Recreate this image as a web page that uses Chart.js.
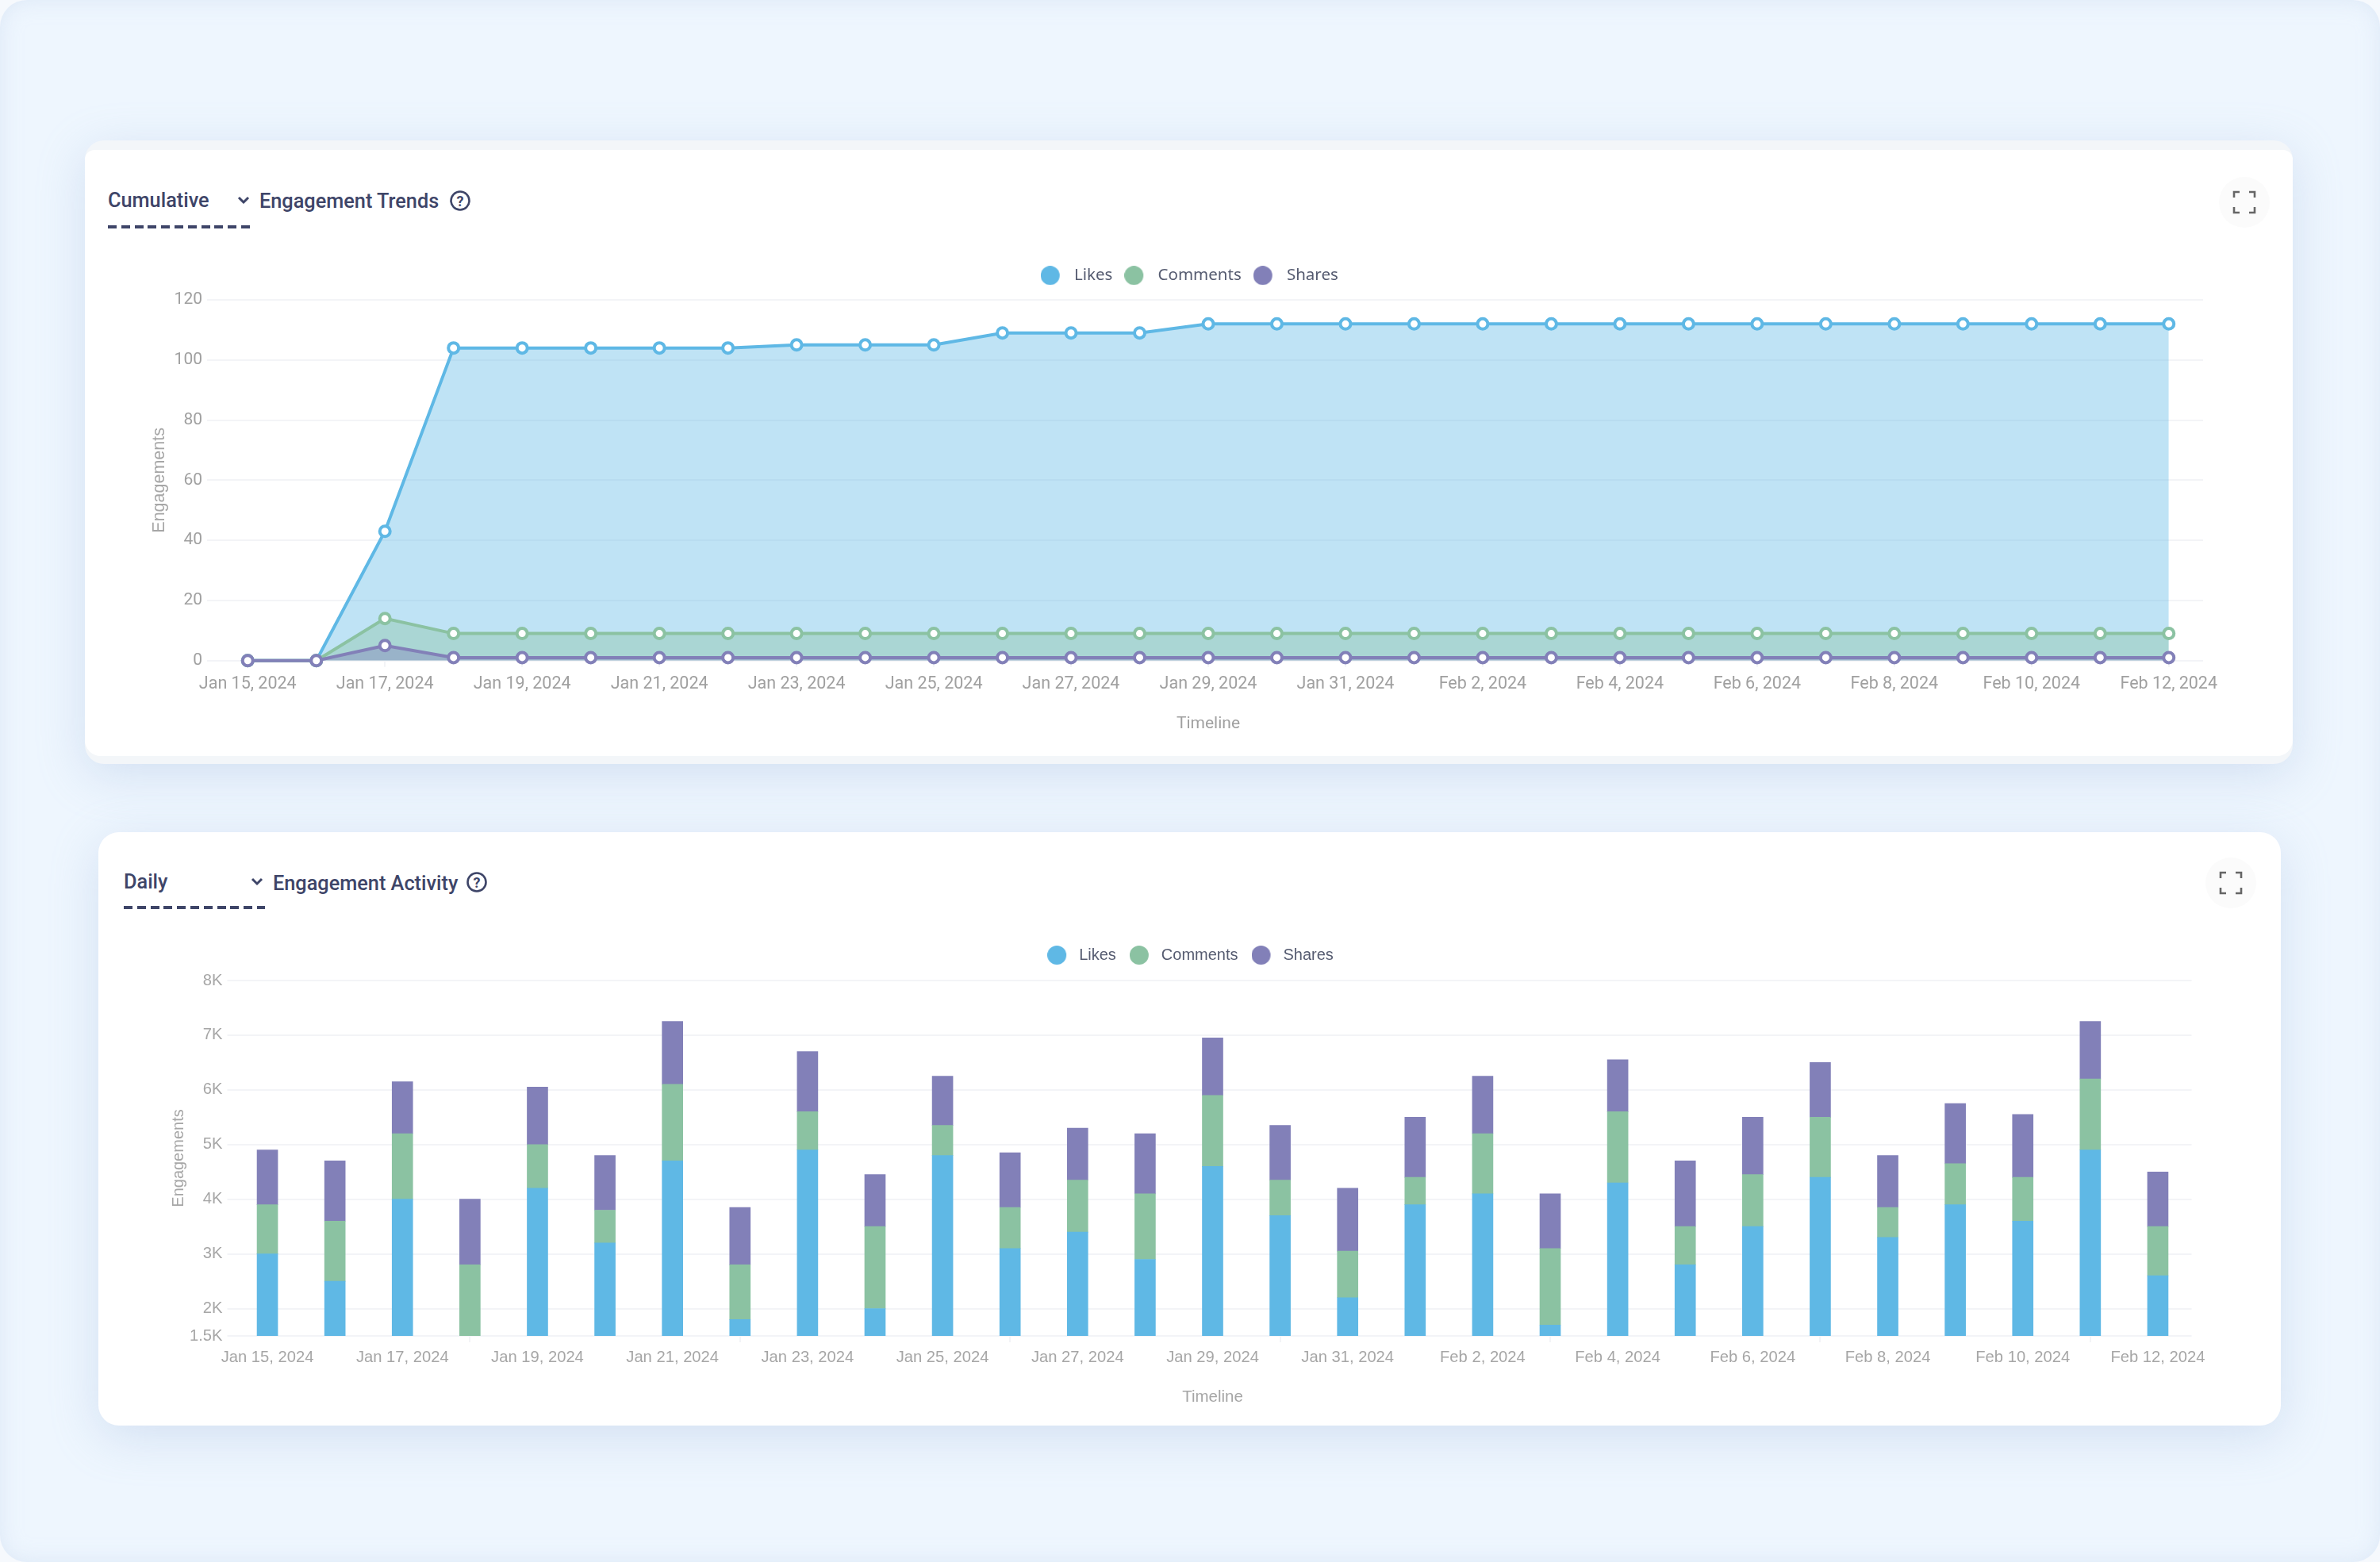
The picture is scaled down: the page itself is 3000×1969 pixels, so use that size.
<!DOCTYPE html>
<html>
<head>
<meta charset="utf-8">
<title>Engagement</title>
<script src="https://cdn.jsdelivr.net/npm/chart.js@4"></script>
<style>
  html, body { margin: 0; padding: 0; width: 3000px; height: 1969px; overflow: hidden; background: #f6f9fd; }
  .page { position: absolute; inset: 0; background: #eef6fe; border-radius: 34px; box-shadow: inset 0 0 26px rgba(205,220,240,.55); overflow: hidden; }
  .card { position: absolute; box-shadow: 0 14px 60px rgba(150,175,215,.30); }
  #card1 { left: 107px; top: 177px; width: 2783px; height: 786px; background: #f3f6f9; border-radius: 24px; }
  #card1 .inner { position: absolute; left: 0; right: 0; top: 12px; bottom: 10px; background: #fff; border-radius: 12px 12px 20px 20px; }
  #card2 { left: 124px; top: 1049px; width: 2751px; height: 748px; background: #fff; border-radius: 26px; }
  .hd { position: absolute; font: 500 25.3px Roboto, sans-serif; color: #3e4568; white-space: nowrap; line-height: 30px; }
  .dash { position: absolute; width: 179px; height: 4px; background: repeating-linear-gradient(90deg, #3e4568 0 11px, transparent 11px 16.8px); }
  svg.ic { position: absolute; overflow: visible; }
  .box { position: absolute; }
  .box canvas { display: block; }
</style>
</head>
<body>
<div class="page">
  <div class="card" id="card1"><div class="inner"></div></div>
  <div class="card" id="card2"></div>

  <div class="hd" style="left:136px;top:238px">Cumulative</div>
  <svg class="ic" style="left:299px;top:247px" width="16" height="10" viewBox="0 0 16 10"><path d="M2 2 L8 8 L14 2" fill="none" stroke="#3e4568" stroke-width="3"/></svg>
  <div class="hd" style="left:327px;top:239px">Engagement Trends</div>
  <svg class="ic" style="left:567px;top:240px" width="26" height="26" viewBox="0 0 26 26"><circle cx="13" cy="13" r="11.5" fill="none" stroke="#3e4568" stroke-width="2.6"/><text x="13" y="19.5" text-anchor="middle" font-family="Roboto" font-weight="700" font-size="18" fill="#3e4568">?</text></svg>
  <div class="dash" style="left:136px;top:284px"></div>
  <svg class="ic" style="left:2797px;top:223px" width="64" height="64" viewBox="0 0 64 64"><circle cx="32" cy="32" r="32" fill="#fbfbfb"/><path d="M19 26 V19 H26 M38 19 H45 V26 M45 38 V45 H38 M26 45 H19 V38" fill="none" stroke="#666" stroke-width="2.6"/></svg>

  <div class="hd" style="left:156px;top:1097px">Daily</div>
  <svg class="ic" style="left:316px;top:1106px" width="16" height="10" viewBox="0 0 16 10"><path d="M2 2 L8 8 L14 2" fill="none" stroke="#3e4568" stroke-width="3"/></svg>
  <div class="hd" style="left:344px;top:1099px">Engagement Activity</div>
  <svg class="ic" style="left:588px;top:1099px" width="26" height="26" viewBox="0 0 26 26"><circle cx="13" cy="13" r="11.5" fill="none" stroke="#3e4568" stroke-width="2.6"/><text x="13" y="19.5" text-anchor="middle" font-family="Roboto" font-weight="700" font-size="18" fill="#3e4568">?</text></svg>
  <div class="dash" style="left:156px;top:1142px;width:178px"></div>
  <svg class="ic" style="left:2780px;top:1081px" width="64" height="64" viewBox="0 0 64 64"><circle cx="32" cy="32" r="32" fill="#fbfbfb"/><path d="M19 26 V19 H26 M38 19 H45 V26 M45 38 V45 H38 M26 45 H19 V38" fill="none" stroke="#666" stroke-width="2.6"/></svg>

  <div class="box" style="left:130px;top:322px;width:2680px;height:603px"><canvas id="trendChart"></canvas></div>
  <div class="box" style="left:140px;top:1177px;width:2648px;height:597px"><canvas id="activityChart"></canvas></div>
</div>

<script>
// ====== Data ======
const DATES = ["Jan 15, 2024","Jan 16, 2024","Jan 17, 2024","Jan 18, 2024","Jan 19, 2024","Jan 20, 2024","Jan 21, 2024","Jan 22, 2024","Jan 23, 2024","Jan 24, 2024","Jan 25, 2024","Jan 26, 2024","Jan 27, 2024","Jan 28, 2024","Jan 29, 2024","Jan 30, 2024","Jan 31, 2024","Feb 1, 2024","Feb 2, 2024","Feb 3, 2024","Feb 4, 2024","Feb 5, 2024","Feb 6, 2024","Feb 7, 2024","Feb 8, 2024","Feb 9, 2024","Feb 10, 2024","Feb 11, 2024","Feb 12, 2024"];

const cumLikes    = [0,0,43,104,104,104,104,104,105,105,105,109,109,109,112,112,112,112,112,112,112,112,112,112,112,112,112,112,112];
const cumComments = [0,0,14,9,9,9,9,9,9,9,9,9,9,9,9,9,9,9,9,9,9,9,9,9,9,9,9,9,9];
const cumShares   = [0,0,5,1,1,1,1,1,1,1,1,1,1,1,1,1,1,1,1,1,1,1,1,1,1,1,1,1,1];

const dayLikes    = [3000,2500,4000,1400,4200,3200,4700,1800,4900,2000,4800,3100,3400,2900,4600,3700,2200,3900,4100,1700,4300,2800,3500,4400,3300,3900,3600,4900,2600];
const dayComments = [900,1100,1200,1400,800,600,1400,1000,700,1500,550,750,950,1200,1300,650,850,500,1100,1400,1300,700,950,1100,550,750,800,1300,900];
const dayShares   = [1000,1100,950,1200,1050,1000,1150,1050,1100,950,900,1000,950,1100,1050,1000,1150,1100,1050,1000,950,1200,1050,1000,950,1100,1150,1050,1000];

const dayTicks = [1500,2000,3000,4000,5000,6000,7000,8000];

const BLUE = "#5fb8e5", GREEN = "#8bc2a2", PURPLE = "#8280b8";
const GRID = "#f3f4f7";

// ====== Legend helpers ======
// circle at the left of a wider image, gives the gap before the text
function legendDot(color, width) {
  const c = document.createElement("canvas");
  c.width = width; c.height = 24;
  const x = c.getContext("2d");
  x.fillStyle = color;
  x.beginPath(); x.arc(12, 12, 12, 0, Math.PI * 2); x.fill();
  return c;
}

function legendOptions(font, color, gap, dotWidth) {
  return {
    position: "top",
    labels: {
      font: font, color: color, padding: gap,
      usePointStyle: true, pointStyleWidth: dotWidth,
      generateLabels(chart) {
        return chart.data.datasets.map((ds, i) => ({
          text: ds.label, pointStyle: legendDot(ds.borderColor, dotWidth),
          fontColor: color, lineWidth: 0, strokeStyle: "transparent", fillStyle: ds.borderColor, datasetIndex: i
        }));
      }
    }
  };
}

function legendSpacer(extra) {
  return {
    id: "legendSpacer",
    beforeInit(chart) {
      const fit = chart.legend.fit;
      chart.legend.fit = function () {
        fit.bind(this)();
        this.height += extra;
      };
    }
  };
}

function fixWidth(w) { return s => { s.width = w; }; }
// right inset goes on the axis so the legend stays centred on the whole canvas
function fixHeight(h, right) { return s => { s.height = h; s.paddingLeft = 0; s.paddingRight = right; }; }

// ====== Cumulative chart ======
function lineSet(label, data, color, order) {
  return {
    label, data, order, borderColor: color, backgroundColor: color + "66",
    fill: "origin", tension: 0, clip: false, borderWidth: 4,
    pointRadius: 6.5, pointBorderWidth: 4, pointBackgroundColor: "#fff", pointBorderColor: color
  };
}

new Chart(document.getElementById("trendChart"), {
  type: "line",
  data: {
    labels: DATES,
    datasets: [
      lineSet("Likes", cumLikes, BLUE, 3),
      lineSet("Comments", cumComments, GREEN, 2),
      lineSet("Shares", cumShares, PURPLE, 1)
    ]
  },
  plugins: [legendSpacer(10.5)],
  options: {
    responsive: true, maintainAspectRatio: false, animation: false,
    layout: { padding: { left: 58.5, right: 0, top: 0, bottom: 0 } },
    plugins: {
      legend: legendOptions({ family: "Noto Sans", size: 20.5 }, "#555b70", 15, 32),
      tooltip: { enabled: false }
    },
    scales: {
      x: {
        offset: true,
        afterFit: fixHeight(92.3, 33),
        grid: { drawOnChartArea: false, color: GRID, lineWidth: 2, tickLength: 8 },
        border: { display: false },
        ticks: { autoSkip: true, maxTicksLimit: 15, maxRotation: 0, padding: 9, color: "#a0a0a0", font: { family: "Roboto", size: 21.5 } },
        title: { display: true, text: "Timeline", color: "#a0a0a0", padding: 0, font: { family: "Roboto", size: 21 } }
      },
      y: {
        min: 0, max: 120,
        afterFit: fixWidth(80.5),
        grid: { color: GRID, lineWidth: 2, tickLength: 8 },
        border: { display: false },
        ticks: { stepSize: 20, padding: 6, color: "#a0a0a0", font: { family: "Roboto", size: 21 } },
        title: { display: true, text: "Engagements", color: "#a6a6a6", padding: 0, font: { family: "Liberation Sans", size: 21.5 } }
      }
    }
  }
});

// ====== Daily chart ======
function barSet(label, data, color) {
  return { label, data, backgroundColor: color, borderColor: color, barThickness: 26, borderWidth: 0 };
}

new Chart(document.getElementById("activityChart"), {
  type: "bar",
  data: {
    labels: DATES,
    datasets: [
      barSet("Likes", dayLikes, BLUE),
      barSet("Comments", dayComments, GREEN),
      barSet("Shares", dayShares, PURPLE)
    ]
  },
  plugins: [legendSpacer(12)],
  options: {
    responsive: true, maintainAspectRatio: false, animation: false,
    layout: { padding: { left: 73, right: 0, top: 0, bottom: 0 } },
    plugins: {
      legend: legendOptions({ family: "Liberation Sans", size: 20 }, "#555b70", 17, 30),
      tooltip: { enabled: false }
    },
    scales: {
      x: {
        stacked: true,
        afterFit: fixHeight(90, 25.5),
        grid: { drawOnChartArea: false, color: GRID, lineWidth: 2, tickLength: 8 },
        border: { display: false },
        ticks: { autoSkip: true, maxTicksLimit: 15, maxRotation: 0, padding: 7, color: "#a6a6a6", font: { family: "Liberation Sans", size: 20.2 } },
        title: { display: true, text: "Timeline", color: "#a6a6a6", padding: 0, font: { family: "Liberation Sans", size: 20.5 } }
      },
      y: {
        stacked: true, min: 1500, max: 8000,
        afterFit: fixWidth(81.5),
        afterBuildTicks: s => { s.ticks = dayTicks.map(value => ({ value })); },
        grid: { color: GRID, lineWidth: 2, tickLength: 8 },
        border: { display: false },
        ticks: {
          padding: 6, color: "#a6a6a6", font: { family: "Liberation Sans", size: 20.2 },
          callback: v => (v / 1000) + "K"
        },
        title: { display: true, text: "Engagements", color: "#a6a6a6", padding: 0, font: { family: "Liberation Sans", size: 20 } }
      }
    }
  }
});
</script>
</body>
</html>
